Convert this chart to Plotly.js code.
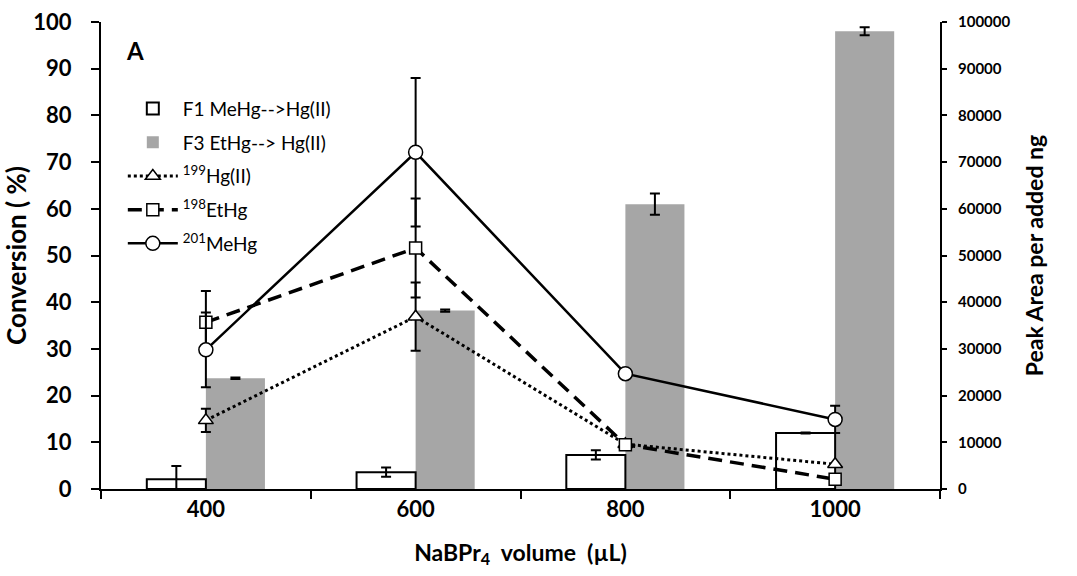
<!DOCTYPE html>
<html>
<head>
<meta charset="utf-8">
<script src="https://cdn.plot.ly/plotly-3.0.1.min.js"></script>
<style>html,body{margin:0;padding:0;background:#fff}#chart{width:1077px;height:576px}</style>
</head>
<body>
<div id="chart"></div>
<script>
// Data
const categories = ["400", "600", "800", "1000"];
const f1Conversion = [2.1, 3.6, 7.3, 12.0];
const f1Err = [2.8, 1.0, 1.0, 0.1];
const f3PeakArea = [23700, 38200, 61000, 98000];
const f3Err = [150, 250, 2300, 850];
const hgII = [14.7, 36.9, 9.6, 5.3];
const hgIIErr = [2.5, 7.3, 0, 0];
const etHg = [35.7, 51.6, 9.5, 2.1];
const etHgErr = [6.7, 10.6, 0, 0];
const meHg = [29.8, 72.1, 24.7, 14.9];
const meHgErr = [8.0, 15.9, 0, 2.9];
const rightTicks = [0, 10000, 20000, 30000, 40000, 50000, 60000, 70000, 80000, 90000, 100000];

const FONT = "Lato, 'Open Sans', sans-serif";
const BW = 0.2816;

const errStyle = (arr) => ({type: "data", array: arr, visible: true, color: "#000", thickness: 2, width: 5});

const traces = [
  {
    type: "bar", name: "F1 MeHg-->Hg(II)", x: categories, y: f1Conversion, yaxis: "y2",
    width: BW, offset: -BW,
    marker: {color: "#ffffff", line: {color: "#000", width: 2}},
    error_y: errStyle(f1Err), legendgroup: "a"
  },
  {
    type: "bar", name: "F3 EtHg--> Hg(II)", x: categories, y: f3PeakArea, yaxis: "y",
    width: BW, offset: 0,
    marker: {color: "#a6a6a6", line: {width: 0}},
    error_y: errStyle(f3Err), legendgroup: "b"
  },
  {
    type: "scatter", mode: "lines+markers", name: "<sup>199</sup>Hg(II)", x: categories, y: hgII, yaxis: "y2",
    line: {color: "#000", width: 3, dash: "3px,3px"},
    marker: {symbol: "triangle-up", size: 13, color: "#fff", line: {color: "#000", width: 1.5}},
    error_y: errStyle(hgIIErr), legendgroup: "c"
  },
  {
    type: "scatter", mode: "lines+markers", name: "<sup>198</sup>EtHg", x: categories, y: etHg, yaxis: "y2",
    line: {color: "#000", width: 3.5, dash: "14px,8px"},
    marker: {symbol: "square", size: 12, color: "#fff", line: {color: "#000", width: 1.5}},
    error_y: errStyle(etHgErr), legendgroup: "d"
  },
  {
    type: "scatter", mode: "lines+markers", name: "<sup>201</sup>MeHg", x: categories, y: meHg, yaxis: "y2",
    line: {color: "#000", width: 2.5},
    marker: {symbol: "circle", size: 14, color: "#fff", line: {color: "#000", width: 1.5}},
    error_y: errStyle(meHgErr), legendgroup: "e"
  }
];

const layout = {
  width: 1077, height: 576,
  margin: {l: 101, r: 137, t: 22, b: 87},
  paper_bgcolor: "#fff", plot_bgcolor: "#fff",
  font: {family: FONT, color: "#000"},
  showlegend: true,
  legend: {
    x: 0.026, y: 0.855, xanchor: "left", yanchor: "top",
    bgcolor: "rgba(0,0,0,0)", font: {size: 19, family: FONT, color: "#000"},
    tracegroupgap: 6, traceorder: "grouped", itemwidth: 50
  },
  xaxis: {
    type: "category", range: [-0.5, 3.5], tickson: "boundaries",
    showline: true, linecolor: "#000", linewidth: 2,
    ticks: "outside", ticklen: 8, tickwidth: 2, tickcolor: "#000",
    showgrid: false, zeroline: false,
    tickfont: {size: 22, family: FONT, color: "#000", weight: "bold"},
    title: {text: "NaBPr<sub>4</sub>  volume  (µL)", font: {size: 23, family: FONT, color: "#000", weight: "bold"}, standoff: 23}
  },
  yaxis: {
    side: "right", range: [0, 100000], tickvals: rightTicks, tickformat: "d",
    showline: true, linecolor: "#000", linewidth: 2,
    ticks: "outside", ticklen: 5, tickwidth: 2, tickcolor: "#000",
    showgrid: false, zeroline: false, ticklabelstandoff: 8,
    tickfont: {size: 15, family: FONT, color: "#000", weight: "bold"},
    title: {text: "Peak Area per added ng", font: {size: 23, family: FONT, color: "#000", weight: "bold"}, standoff: 17}
  },
  yaxis2: {
    overlaying: "y", side: "left", range: [0, 100], dtick: 10,
    showline: true, linecolor: "#000", linewidth: 2,
    ticks: "outside", ticklen: 8, tickwidth: 2, tickcolor: "#000",
    showgrid: false, zeroline: false, ticklabelstandoff: 15,
    tickfont: {size: 22, family: FONT, color: "#000", weight: "bold"},
    title: {text: "Conversion ( %)", font: {size: 26, family: FONT, color: "#000", weight: "bold"}, standoff: 0}
  },
  annotations: [{
    text: "A", xref: "paper", yref: "paper", x: 0.04, y: 0.94, xanchor: "center", yanchor: "middle",
    showarrow: false, font: {size: 24, family: FONT, color: "#000", weight: "bold"}
  }]
};

Plotly.newPlot("chart", traces, layout, {displayModeBar: false, staticPlot: true});
</script>
</body>
</html>
